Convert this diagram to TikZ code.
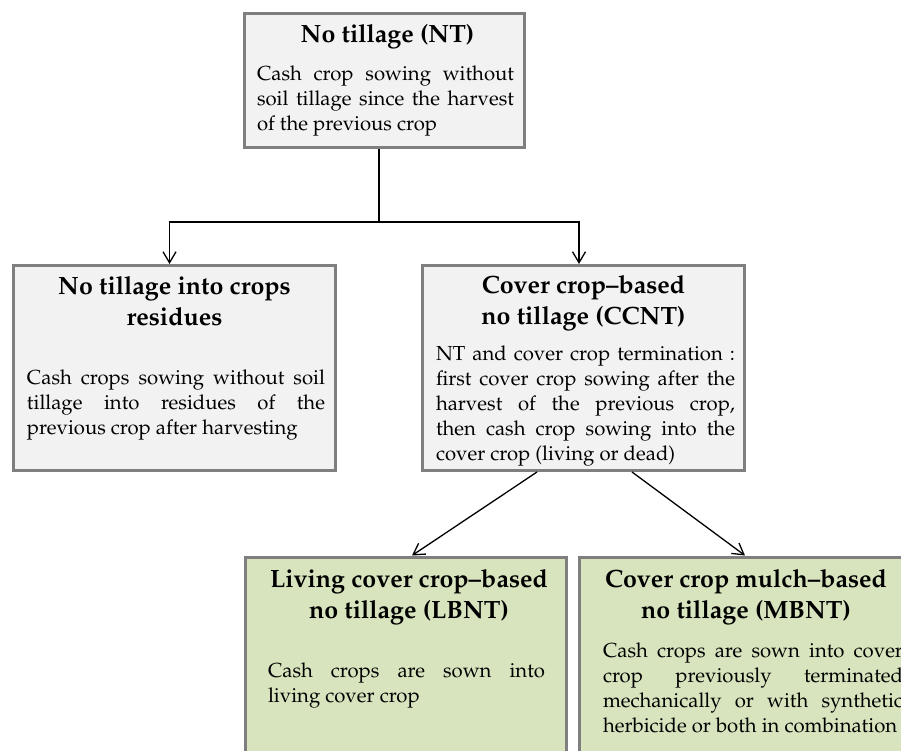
\documentclass[tikz,border=0pt]{standalone}
\usepackage[T1]{fontenc}
\usepackage{mathpazo}
\usetikzlibrary{arrows.meta}
\definecolor{boxgray}{HTML}{F2F2F2}
\definecolor{boxgreen}{HTML}{D7E4BD}
\definecolor{edgegray}{HTML}{7F7F7F}
\tikzset{
  stage/.style={draw=edgegray, line width=3pt, fill=boxgray, inner sep=0pt},
  subtype/.style={stage, fill=boxgreen},
  heading/.style={anchor=north, align=center, inner sep=0pt, font=\fontsize{25}{31}\selectfont\bfseries},
  blurb/.style={anchor=north, align=justify, inner sep=0pt, font=\fontsize{20.3}{25}\selectfont},
  link/.style={line width=1.3pt, -{Straight Barb[length=11pt,width=13pt]}}
}
\begin{document}
\begin{tikzpicture}[x=1pt,y=-1pt]
	\useasboundingbox (0,0) rectangle (901,751);
	\clip (0,0) rectangle (901,751);
	\node[stage, minimum width=280, minimum height=134] (nt) at (384.5,80.5) {};
	\node[heading] (nt-title) at (387.5,24) {No tillage (NT)};
	\node[blurb, text width=257] (nt-text) at (385.5,66)
		{Cash crop sowing without\linebreak soil tillage since the harvest\linebreak of the previous crop};
	\node[stage, minimum width=322, minimum height=205] (ntr) at (174.5,368) {};
	\node[heading] (ntr-title) at (174.5,276) {No tillage into crops\\residues};
	\node[blurb, text width=298] (ntr-text) at (176,370)
		{Cash crops sowing without soil\linebreak tillage into residues of the\linebreak previous crop after harvesting};
	\node[stage, minimum width=322, minimum height=205] (ccnt) at (583.5,368) {};
	\node[heading] (ccnt-title) at (583.5,275) {Cover crop--based\\no tillage (CCNT)};
	\node[blurb, text width=299] (ccnt-text) at (585.5,346)
		{NT and cover crop termination :\linebreak first cover crop sowing after the\linebreak harvest of the previous crop,\linebreak then cash crop sowing into the\linebreak cover crop (living or dead)};
	\node[subtype, minimum width=321, minimum height=240] (lbnt) at (406,677) {};
	\node[heading] (lbnt-title) at (409,569) {Living cover crop--based\\no tillage (LBNT)};
	\node[blurb, text width=277] (lbnt-text) at (406.5,663)
		{Cash crops are sown into\linebreak living cover crop};
	\node[subtype, minimum width=339, minimum height=240] (mbnt) at (749,677) {};
	\node[heading] (mbnt-title) at (746,569) {Cover crop mulch--based\\no tillage (MBNT)};
	\node[blurb, text width=300] (mbnt-text) at (753,643)
		{Cash crops are sown into cover\linebreak crop previously terminated\linebreak mechanically or with synthetic\linebreak herbicide or both in combination};
	\coordinate (split) at (379,222);
	\draw[line width=1.3pt] (nt.south -| split) -- (split);
	\draw[link] (split) -| ([xshift=-5]ntr.north);
	\draw[link] (split) -| ([xshift=-4.5]ccnt.north);
	\draw[link] ([xshift=-46.5]ccnt.south) -- ([xshift=6]lbnt.north);
	\draw[link] ([xshift=48.5]ccnt.south) -- ([xshift=-4]mbnt.north);
\end{tikzpicture}
\end{document}
